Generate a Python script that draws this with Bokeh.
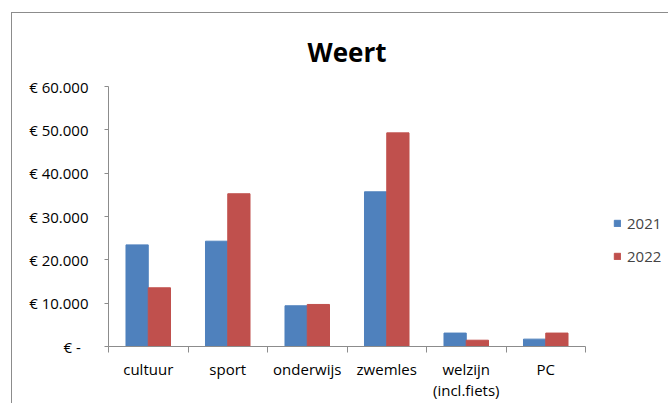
from bokeh.plotting import figure
from bokeh.models import (FactorRange, Range1d, LinearAxis, FixedTicker, Legend,
                          LegendItem, ColumnDataSource)
from bokeh.transform import dodge
from bokeh.embed import file_html
from bokeh.resources import INLINE

categories = ["cultuur", "sport", "onderwijs", "zwemles", "welzijn (incl.fiets)", "PC"]
axis_labels = ["cultuur", "sport", "onderwijs", "zwemles", "welzijn\n(incl.fiets)", "PC"]
series = ["2021", "2022"]
values_2021 = [23450, 24300, 9400, 35700, 3100, 1700]
values_2022 = [13550, 35250, 9700, 49300, 1450, 3100]
y_ticks = [0, 10000, 20000, 30000, 40000, 50000, 60000]
y_tick_labels = ["€ -\u00a0\u00a0", "€ 10.000", "€ 20.000", "€ 30.000",
                 "€ 40.000", "€ 50.000", "€ 60.000"]

BLUE = "#4F81BD"
RED = "#C0504D"
GRAY = "#8c8c8c"
FONT = "Open Sans"

source = ColumnDataSource(dict(cat=categories, v2021=values_2021, v2022=values_2022))

p = figure(frame_width=477, frame_height=260, output_backend="svg", toolbar_location=None,
           x_range=FactorRange(*categories, range_padding=0, factor_padding=0),
           y_range=Range1d(0, 60000), x_axis_type=None, y_axis_type=None,
           min_border_left=96, min_border_right=83, min_border_top=73,
           min_border_bottom=57)
p.margin = (12, 0, 0, 11)
p.styles = {"border-top": "1px solid #8c8c8c", "border-left": "1px solid #8c8c8c"}
p.outline_line_color = None
p.background_fill_color = "white"
p.border_fill_color = "white"

bw = 0.28
r1 = p.vbar(x=dodge("cat", -bw / 2, range=p.x_range), top="v2021", width=bw,
            source=source, fill_color=BLUE, line_color=BLUE)
r2 = p.vbar(x=dodge("cat", bw / 2, range=p.x_range), top="v2022", width=bw,
            source=source, fill_color=RED, line_color=RED)

# y axis
yaxis = LinearAxis(ticker=FixedTicker(ticks=y_ticks, minor_ticks=[]))
yaxis.major_label_overrides = {t: l for t, l in zip(y_ticks, y_tick_labels)}
yaxis.axis_line_color = GRAY
yaxis.major_tick_line_color = GRAY
yaxis.major_tick_out = 4
yaxis.major_tick_in = 0
yaxis.minor_tick_line_color = None
yaxis.major_label_standoff = 16
yaxis.major_label_text_font = FONT
yaxis.major_label_text_font_size = "15px"
yaxis.major_label_text_color = "black"
p.add_layout(yaxis, "left")

# x axis: labels at category centres, ticks at category boundaries
n = len(categories)
centres = [i + 0.5 for i in range(n)]
bounds = [float(i) for i in range(n + 1)]
xaxis = LinearAxis(ticker=FixedTicker(ticks=centres, minor_ticks=bounds))
xaxis.major_label_overrides = {c: l for c, l in zip(centres, axis_labels)}
xaxis.axis_line_color = GRAY
xaxis.major_tick_line_color = None
xaxis.major_tick_out = 0
xaxis.major_tick_in = 0
xaxis.minor_tick_line_color = GRAY
xaxis.minor_tick_out = 6
xaxis.minor_tick_in = 0
xaxis.major_label_standoff = 6
xaxis.major_label_text_font = FONT
xaxis.major_label_text_font_size = "15px"
xaxis.major_label_text_color = "black"
xaxis.major_label_text_line_height = 1.07
p.add_layout(xaxis, "below")

# grid
p.ygrid.ticker = FixedTicker(ticks=y_ticks)
p.ygrid.grid_line_color = GRAY
p.xgrid.grid_line_color = None

# title
p.title.text = "Weert"
p.title.align = "center"
p.title.text_font = FONT
p.title.text_font_style = "bold"
p.title.text_font_size = "26px"
p.title.text_color = "black"
p.title.text_line_height = 0.85
p.title.standoff = 34

legend = Legend(items=[LegendItem(label=series[0], renderers=[r1]),
                       LegendItem(label=series[1], renderers=[r2])],
                location=(28, 80), padding=0, margin=0, spacing=13,
                glyph_width=8, glyph_height=8, label_height=18, label_standoff=6,
                label_text_font=FONT, label_text_font_size="15px",
                border_line_color=None, background_fill_alpha=0)
p.add_layout(legend, "right")

open("out.html", "w").write(file_html(p, INLINE))
